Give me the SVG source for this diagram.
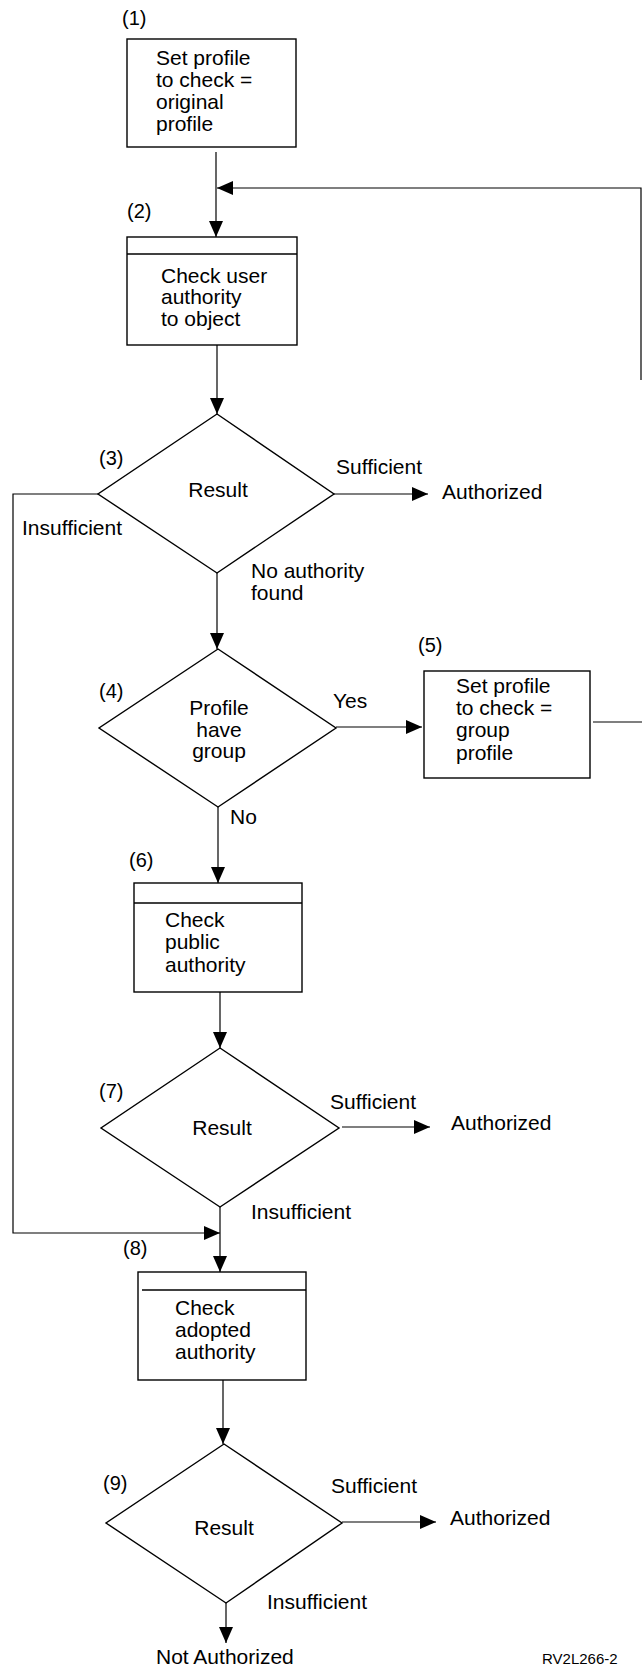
<svg xmlns="http://www.w3.org/2000/svg" width="642" height="1667" viewBox="0 0 642 1667">
  <style>
    text { font-family: "Liberation Sans", Arial, sans-serif; font-size: 21px; fill: #000; }
    .num { font-size: 20px; }
    .mid { text-anchor: middle; }
    .small { font-size: 15px; }
    .shape { fill: #fff; stroke: #000; stroke-width: 1.4; }
    .rule { stroke: #000; stroke-width: 1.3; fill: none; }
    .line { stroke: #000; stroke-width: 1.2; fill: none; }
  </style>
  <defs>
    <marker id="arrow" viewBox="0 0 16 14" refX="16" refY="7" markerWidth="16" markerHeight="14" markerUnits="userSpaceOnUse" orient="auto">
      <path d="M0,0 L16,7 L0,14 Z" fill="#000"/>
    </marker>
  </defs>

  <rect width="642" height="1667" fill="#fff"/>

  <!-- connectors -->
  <g id="connectors">
    <line class="line" x1="216" y1="152" x2="216" y2="237" marker-end="url(#arrow)"/>
    <!-- return path from group-profile step -->
    <line class="line" x1="593" y1="722" x2="642" y2="722"/>
    <polyline class="line" points="641,380 641,188 217,188" marker-end="url(#arrow)"/>
    <line class="line" x1="217" y1="345" x2="217" y2="414" marker-end="url(#arrow)"/>
    <line class="line" x1="334" y1="494" x2="428" y2="494" marker-end="url(#arrow)"/>
    <line class="line" x1="217" y1="573" x2="217" y2="649" marker-end="url(#arrow)"/>
    <line class="line" x1="336" y1="727" x2="422" y2="727" marker-end="url(#arrow)"/>
    <line class="line" x1="218" y1="807" x2="218" y2="883" marker-end="url(#arrow)"/>
    <line class="line" x1="220" y1="992" x2="220" y2="1048" marker-end="url(#arrow)"/>
    <line class="line" x1="342" y1="1127" x2="430" y2="1127" marker-end="url(#arrow)"/>
    <polyline class="line" points="98,494 13,494 13,1233 220,1233" marker-end="url(#arrow)"/>
    <line class="line" x1="220" y1="1207" x2="220" y2="1272" marker-end="url(#arrow)"/>
    <line class="line" x1="223" y1="1380" x2="223" y2="1444" marker-end="url(#arrow)"/>
    <line class="line" x1="342" y1="1522" x2="436" y2="1522" marker-end="url(#arrow)"/>
    <line class="line" x1="226" y1="1603" x2="226" y2="1643" marker-end="url(#arrow)"/>
  </g>

  <!-- (1) set profile to original -->
  <g id="step1">
    <text class="num" x="122" y="25">(1)</text>
    <rect class="shape" x="127" y="39" width="169" height="108"/>
    <text x="156" y="65">Set profile</text>
    <text x="156" y="87">to check =</text>
    <text x="156" y="109">original</text>
    <text x="156" y="131">profile</text>
  </g>

  <!-- (2) check user authority -->
  <g id="step2">
    <text class="num" x="127" y="218">(2)</text>
    <rect class="shape" x="127" y="237" width="170" height="108"/>
    <line class="rule" x1="127" y1="254" x2="297" y2="254"/>
    <text x="161" y="283">Check user</text>
    <text x="161" y="304">authority</text>
    <text x="161" y="326">to object</text>
  </g>

  <!-- (3) result decision -->
  <g id="step3">
    <text class="num" x="99" y="465">(3)</text>
    <polygon class="shape" points="217,414 334,494 217,573 98,494"/>
    <text class="mid" x="218" y="497">Result</text>
    <text x="336" y="474">Sufficient</text>
    <text x="442" y="499">Authorized</text>
    <text x="22" y="535">Insufficient</text>
    <text x="251" y="578">No authority</text>
    <text x="251" y="600">found</text>
  </g>

  <!-- (4) profile has group -->
  <g id="step4">
    <text class="num" x="99" y="698">(4)</text>
    <polygon class="shape" points="218,649 336,728 218,807 99,728"/>
    <text class="mid" x="219" y="715">Profile</text>
    <text class="mid" x="219" y="737">have</text>
    <text class="mid" x="219" y="758">group</text>
    <text x="333" y="708">Yes</text>
    <text x="230" y="824">No</text>
  </g>

  <!-- (5) set profile to group -->
  <g id="step5">
    <text class="num" x="418" y="652">(5)</text>
    <rect class="shape" x="424" y="671" width="166" height="107"/>
    <text x="456" y="693">Set profile</text>
    <text x="456" y="715">to check =</text>
    <text x="456" y="737">group</text>
    <text x="456" y="760">profile</text>
  </g>

  <!-- (6) check public authority -->
  <g id="step6">
    <text class="num" x="129" y="867">(6)</text>
    <rect class="shape" x="134" y="883" width="168" height="109"/>
    <line class="rule" x1="134" y1="903" x2="302" y2="903"/>
    <text x="165" y="927">Check</text>
    <text x="165" y="949">public</text>
    <text x="165" y="972">authority</text>
  </g>

  <!-- (7) result decision -->
  <g id="step7">
    <text class="num" x="99" y="1098">(7)</text>
    <polygon class="shape" points="220,1048 339,1128 220,1207 101,1128"/>
    <text class="mid" x="222" y="1135">Result</text>
    <text x="330" y="1109">Sufficient</text>
    <text x="451" y="1130">Authorized</text>
    <text x="251" y="1219">Insufficient</text>
  </g>

  <!-- (8) check adopted authority -->
  <g id="step8">
    <text class="num" x="123" y="1255">(8)</text>
    <rect class="shape" x="138" y="1272" width="168" height="108"/>
    <line class="rule" x1="142" y1="1290" x2="306" y2="1290"/>
    <text x="175" y="1315">Check</text>
    <text x="175" y="1337">adopted</text>
    <text x="175" y="1359">authority</text>
  </g>

  <!-- (9) result decision -->
  <g id="step9">
    <text class="num" x="103" y="1490">(9)</text>
    <polygon class="shape" points="224,1444 342,1523 226,1603 106,1523"/>
    <text class="mid" x="224" y="1535">Result</text>
    <text x="331" y="1493">Sufficient</text>
    <text x="450" y="1525">Authorized</text>
    <text x="267" y="1609">Insufficient</text>
    <text x="156" y="1664">Not Authorized</text>
  </g>

  <text class="small" x="542" y="1664">RV2L266-2</text>
</svg>
